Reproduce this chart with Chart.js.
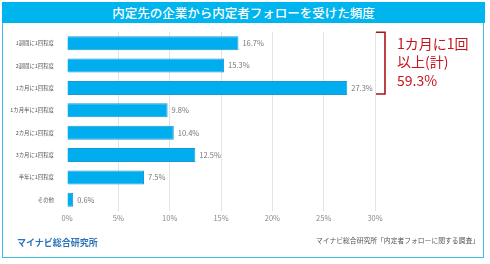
<!DOCTYPE html>
<html><head><meta charset="utf-8">
<script src="https://cdn.jsdelivr.net/npm/chart.js@4/dist/chart.umd.min.js"></script>
<style>
html,body{margin:0;padding:0;background:#fff;}
#wrap{position:relative;width:490px;height:264px;overflow:hidden;font-family:"Noto Sans CJK JP","Noto Sans",sans-serif;}
#frame{position:absolute;left:2px;top:2px;width:480px;height:254px;border:1.5px solid #3dbde6;box-sizing:content-box;}
#titlebar{position:absolute;left:2px;top:2px;width:483px;height:21px;background:#00b4ee;color:#fff;font-size:12.5px;font-weight:500;line-height:21px;text-align:center;}
#brand{position:absolute;left:17px;top:236px;font-size:9px;font-weight:700;color:#2b74b9;line-height:14px;}
#source{position:absolute;right:11px;top:235px;font-size:6.8px;color:#555;line-height:10px;}
canvas{position:absolute;left:0;top:0;}
</style></head>
<body>
<div id="wrap">
<div id="frame"></div>
<div id="titlebar">内定先の企業から内定者フォローを受けた頻度</div>
<canvas id="c" width="490" height="264"></canvas>
<div id="brand">マイナビ総合研究所</div>
<div id="source">マイナビ総合研究所「内定者フォローに関する調査」</div>
</div>
<script>
const categories = ['1週間に1回程度','2週間に1回程度','1カ月に1回程度','1カ月半に1回程度','2カ月に1回程度','3カ月に1回程度','半年に1回程度','その他'];
const values = [16.7,15.3,27.3,9.8,10.4,12.5,7.5,0.6];
const xTickMax = 30;
const xTickStep = 5;
const noteLines = ['1カ月に1回','以上(計)','59.3%'];
const noteRange = [0, 2];

const FONT = '"Noto Sans CJK JP","Noto Sans",sans-serif';

const labelPlugin = {
  id: 'labels',
  afterDatasetsDraw(chart) {
    const ctx = chart.ctx;
    const meta = chart.getDatasetMeta(0);
    ctx.save();
    ctx.font = '7.5px ' + FONT;
    ctx.fillStyle = '#777';
    ctx.textBaseline = 'middle';
    ctx.textAlign = 'left';
    meta.data.forEach((bar, i) => {
      ctx.fillText(values[i].toFixed(1) + '%', bar.x + 4, bar.y);
    });
    // bracket
    const ys = chart.scales.y;
    const y0 = ys.getPixelForValue(noteRange[0]) - 11;
    const y1 = ys.getPixelForValue(noteRange[1]) + 6;
    const xr = chart.chartArea.right + 10;
    ctx.strokeStyle = '#a8151d';
    ctx.lineWidth = 1.6;
    ctx.beginPath();
    ctx.moveTo(xr - 9, y0);
    ctx.lineTo(xr, y0);
    ctx.lineTo(xr, y1);
    ctx.lineTo(xr - 9, y1);
    ctx.stroke();
    ctx.fillStyle = '#c4141d';
    ctx.font = '14px ' + FONT;
    ctx.textBaseline = 'middle';
    noteLines.forEach((t, i) => ctx.fillText(t, xr + 12, y0 + 11 + i * 18.5));
    ctx.restore();
  }
};

new Chart(document.getElementById('c'), {
  type: 'bar',
  data: {
    labels: categories,
    datasets: [{
      data: values,
      backgroundColor: '#00aeef',
      borderColor: '#1c98d2',
      borderWidth: 1,
      barPercentage: 0.625,
      categoryPercentage: 1
    }]
  },
  options: {
    indexAxis: 'y',
    responsive: false,
    animation: false,
    devicePixelRatio: 1,
    layout: { padding: { left: 0, right: 115, top: 32, bottom: 0 } },
    plugins: { legend: { display: false }, tooltip: { enabled: false }, title: { display: false } },
    scales: {
      x: {
        min: 0, max: xTickMax,
        afterFit(s) { s.height = 53; },
        border: { display: false },
        grid: { drawTicks: false, color: (c) => c.tick && c.tick.value === 0 ? 'rgba(0,0,0,0)' : '#e3e3e3', lineWidth: 1 },
        ticks: { stepSize: xTickStep, padding: 3, color: '#888', font: { family: FONT, size: 7.5 }, callback: (v) => v + '%' }
      },
      y: {
        afterFit(s) { s.width = 67; },
        border: { display: false },
        grid: { display: false },
        ticks: { padding: 5, color: '#555', font: { family: FONT, size: 5.4 } }
      }
    }
  },
  plugins: [labelPlugin]
});
</script>
</body></html>
